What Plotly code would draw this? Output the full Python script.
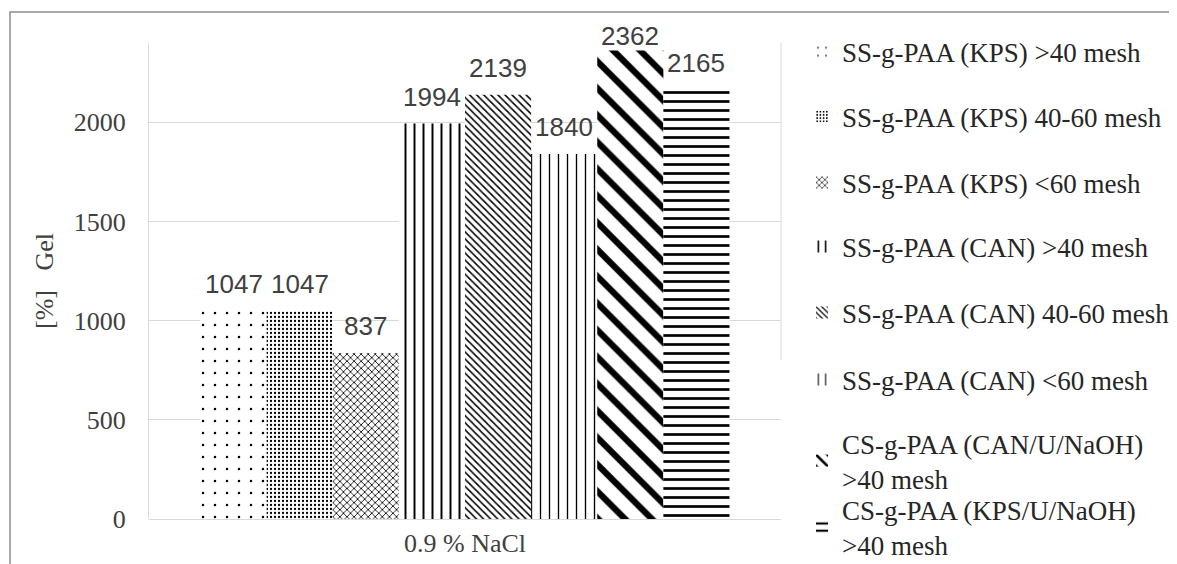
import plotly.graph_objects as go

category = ["0.9 % NaCl"]
series_names = [
    "SS-g-PAA (KPS) >40 mesh",
    "SS-g-PAA (KPS) 40-60 mesh",
    "SS-g-PAA (KPS) <60 mesh",
    "SS-g-PAA (CAN) >40 mesh",
    "SS-g-PAA (CAN) 40-60 mesh",
    "SS-g-PAA (CAN) <60 mesh",
    "CS-g-PAA (CAN/U/NaOH)<br>>40 mesh",
    "CS-g-PAA (KPS/U/NaOH)<br>>40 mesh",
]
values = [1047, 1047, 837, 1994, 2139, 1840, 2362, 2165]
y_ticks = [0, 500, 1000, 1500, 2000]

# styles
patterns = [
    dict(shape=".", size=12, solidity=0.035),
    dict(shape=".", size=4, solidity=0.25),
    dict(shape="x", size=5, solidity=0.3),
    dict(shape="|", size=9, solidity=0.22),
    dict(shape="\\", size=5, solidity=0.3),
    dict(shape="|", size=9, solidity=0.15),
    dict(shape="\\", size=19, solidity=0.33),
    dict(shape="-", size=9, solidity=0.3),
]
legend_y_px = [52, 117, 183, 247, 313, 380, 461, 527.5]

# page offset of the plot div (default body margin)
OFF = 8
W, H = 1177 - OFF, 564 - OFF
ml, mr, mt, mb = 149 - OFF, 396, 43 - OFF, 45
pw, ph = W - ml - mr, H - mt - mb
ymax = 2400
bargap = 0.163
pxu = ph / ymax

fig = go.Figure()
for i, (name, v) in enumerate(zip(series_names, values)):
    p = patterns[i]
    fig.add_trace(go.Bar(
        x=category, y=[v], name=name,
        marker=dict(color="white", line=dict(width=0),
                    pattern=dict(shape=p["shape"], size=p["size"], solidity=p["solidity"],
                                 fgcolor="black", bgcolor="white", fillmode="replace")),
        legend="legend" if i == 0 else f"legend{i+1}",
        hoverinfo="skip",
    ))

bw = pw * (1 - bargap) / len(values)
for i, v in enumerate(values):
    yshift = min(27, (ymax - v) * pxu + 7)
    fig.add_annotation(x=category[0], y=v, xref="x", yref="y", text=str(v), showarrow=False,
                       xshift=(i - (len(values) - 1) / 2) * bw, yshift=yshift, yanchor="middle",
                       font=dict(family="Liberation Sans", size=26, color="#404040"))

legend_font = dict(family="Liberation Serif", size=27, color="#262626")
layout_legends = {}
for i, ypx in enumerate(legend_y_px):
    key = "legend" if i == 0 else f"legend{i+1}"
    layout_legends[key] = dict(x=(802 - OFF - ml) / pw, xanchor="left",
                               y=(H - mb - (ypx - OFF)) / ph, yanchor="middle",
                               font=legend_font, bgcolor="rgba(0,0,0,0)", borderwidth=0,
                               itemsizing="constant")

fig.update_layout(
    width=W, height=H,
    margin=dict(l=ml, r=mr, t=mt, b=mb, autoexpand=False),
    paper_bgcolor="white", plot_bgcolor="white",
    barmode="group", bargap=bargap, bargroupgap=0,
    showlegend=True,
    **layout_legends,
    xaxis=dict(showgrid=False, showline=False, ticks="", zeroline=False,
               tickfont=dict(family="Liberation Serif", size=26, color="#404040"),
               ticklabelstandoff=6),
    yaxis=dict(range=[0, ymax], tickvals=y_ticks, showgrid=True, gridcolor="#d9d9d9", gridwidth=1,
               zeroline=True, zerolinecolor="#d9d9d9", zerolinewidth=1,
               showline=True, linecolor="#d9d9d9", linewidth=1, ticks="",
               tickfont=dict(family="Liberation Serif", size=26, color="#404040"),
               ticklabelstandoff=17,
               title=dict(text="[%]\u00a0\u00a0\u00a0Gel", standoff=12,
                          font=dict(family="Liberation Serif", size=26, color="#404040"))),
    shapes=[
        dict(type="rect", xref="paper", yref="paper",
             x0=(10 - OFF - ml) / pw, x1=(W + 20 - ml) / pw,
             y0=(H - mb - (H + 20)) / ph, y1=(H - mb - (12 - OFF)) / ph,
             line=dict(color="#8c8c8c", width=1.5), fillcolor="rgba(0,0,0,0)", layer="below"),
        dict(type="line", xref="paper", yref="paper", x0=1, x1=1,
             y0=(H - mb - (360 - OFF)) / ph, y1=1, line=dict(color="#d9d9d9", width=1)),
    ],
)

fig.write_html("out.html")
